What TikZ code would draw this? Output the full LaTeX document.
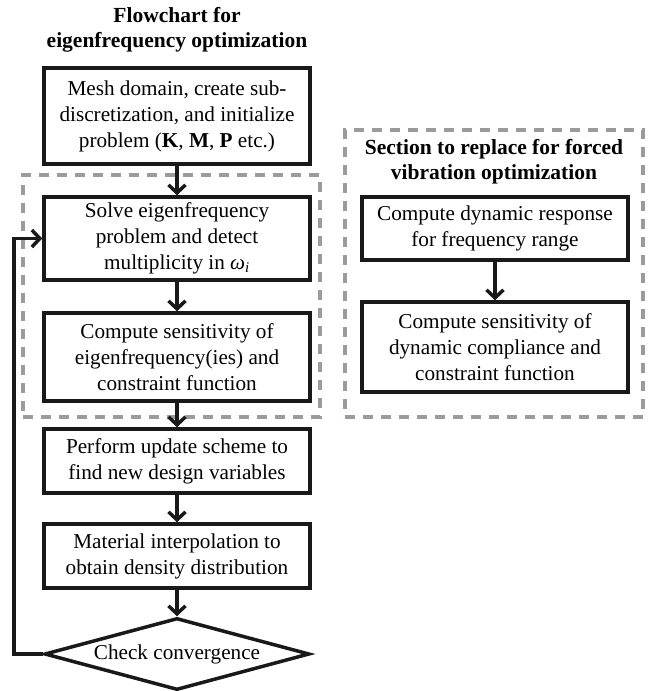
\documentclass[tikz,border=0pt]{standalone}
\usepackage{fontspec}
\setmainfont{Liberation Serif}
\usetikzlibrary{shapes.geometric,arrows.meta}
\definecolor{dashgray}{RGB}{155,155,155}
\tikzset{
  box/.style={draw=black!90, line width=3.5pt, fill=white, inner sep=0pt, align=center,
    font=\fontsize{21.2}{26}\selectfont},
  dbox/.style={draw=dashgray, line width=3.2pt, dash pattern=on 10pt off 8pt, inner sep=0pt},
  ttl/.style={align=center, font=\fontsize{21.5}{25}\selectfont\bfseries},
  arr/.style={line width=3.5pt, draw=black!90, -{Straight Barb[length=8pt,width=17pt,line width=3.5pt]}},
  link/.style={line width=3.5pt, draw=black!90},
  dia/.style={draw=black!90, line width=3.5pt, fill=white, shape=diamond, inner sep=0pt,
    aspect=3.7, minimum width=265pt, minimum height=72pt,
    font=\fontsize{21.2}{26}\selectfont}
}
\begin{document}
\begin{tikzpicture}[x=1pt,y=-1pt]
\useasboundingbox (0,0) rectangle (648,691);
% dashed frames
\node[dbox, minimum width=297pt, minimum height=242pt] (dl) at (171.5,296) {};
\node[dbox, minimum width=298pt, minimum height=287pt] (dr) at (494,273.5) {};
% titles
\node[ttl] (t1) at (177,30) {Flowchart for\\eigenfrequency optimization};
\node[ttl] (t2) at (494,162) {Section to replace for forced\\vibration optimization};
% left column
\node[box, minimum width=266pt, minimum height=96pt] (b1) at (177,116)
  {Mesh domain, create sub-\\discretization, and initialize\\problem (\textbf{K}, \textbf{M}, \textbf{P} etc.)};
\node[box, minimum width=266pt, minimum height=83pt] (b2) at (177,238.5)
  {Solve eigenfrequency\\problem and detect\\multiplicity in {\itshape ω\textsubscript{i}}};
\node[box, minimum width=266pt, minimum height=88pt] (b3) at (177,357)
  {Compute sensitivity of\\eigenfrequency(ies) and\\constraint function};
\node[box, minimum width=266pt, minimum height=64pt] (b4) at (177,461)
  {Perform update scheme to\\find new design variables};
\node[box, minimum width=266pt, minimum height=64pt] (b5) at (177,556)
  {Material interpolation to\\obtain density distribution};
\node[dia] (d) at (177,654) {Check convergence};
% right column
\node[box, minimum width=266pt, minimum height=63pt] (r1) at (495,228.5)
  {Compute dynamic response\\for frequency range};
\node[box, minimum width=266pt, minimum height=90pt] (r2) at (495,347)
  {Compute sensitivity of\\dynamic compliance and\\constraint function};
% arrows
\draw[arr] (b1) -- (b2);
\draw[arr] (b2) -- (b3);
\draw[arr] (b3) -- (b4);
\draw[arr] (b4) -- (b5);
\draw[arr] (b5) -- (d);
\draw[arr] (r1) -- (r2);
\coordinate (c1) at (14,654);
\coordinate (c2) at (14,238.5);
\draw[link] (d.west) -- (c1) -- (c2);
\draw[arr] ([xshift=-1.75pt]c2) -- (b2.west);
\end{tikzpicture}
\end{document}
